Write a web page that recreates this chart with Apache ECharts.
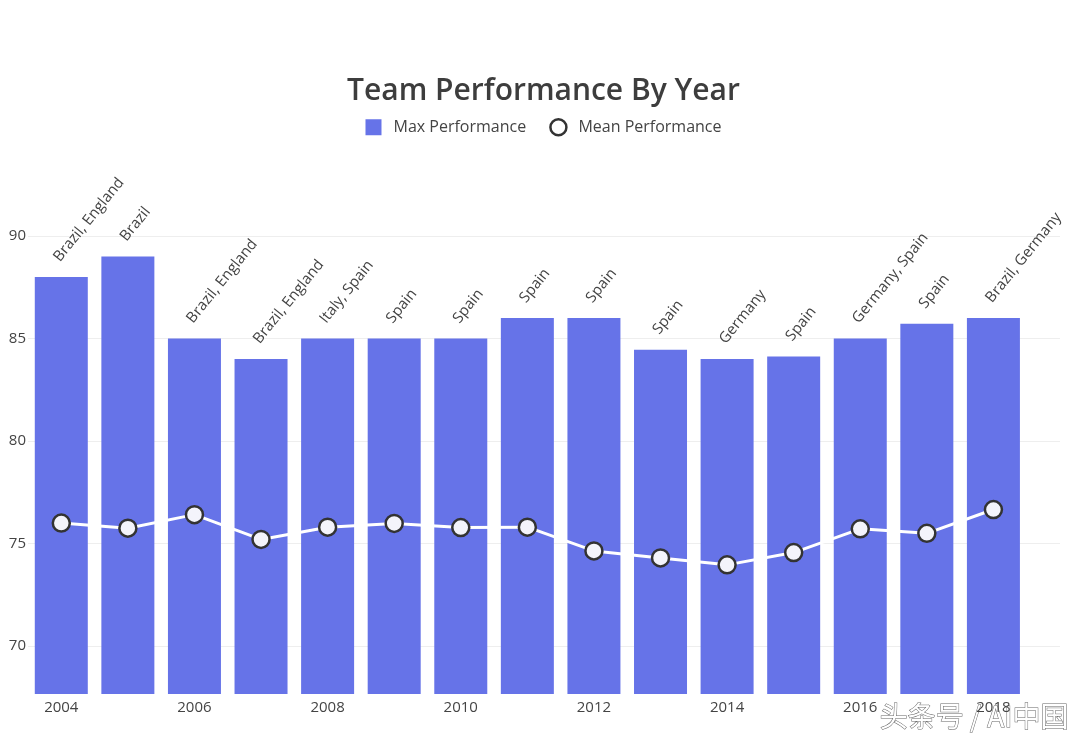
<!DOCTYPE html>
<html>
<head>
<meta charset="utf-8">
<script src="https://cdn.jsdelivr.net/npm/echarts@6/dist/echarts.min.js"></script>
<style>
html,body{margin:0;padding:0;background:#fff;}
#c{width:1087px;height:738px;}
</style>
</head>
<body>
<div id="c"></div>
<script>
const years = [2004, 2005, 2006, 2007, 2008, 2009, 2010, 2011, 2012, 2013, 2014, 2015, 2016, 2017, 2018];
const maxPerformance = [88, 89, 85, 84, 85, 85, 85, 86, 86, 84.46, 84, 84.13, 85, 85.72, 86];
const meanPerformance = [76.0, 75.75, 76.41, 75.2, 75.8, 75.98, 75.78, 75.8, 74.64, 74.3, 73.96, 74.56, 75.72, 75.5, 76.66];
const topTeams = ['Brazil, England', 'Brazil', 'Brazil, England', 'Brazil, England', 'Italy, Spain', 'Spain', 'Spain', 'Spain', 'Spain', 'Spain', 'Germany', 'Spain', 'Germany, Spain', 'Spain', 'Brazil, Germany'];

const chart = echarts.init(document.getElementById('c'), null, {renderer: 'canvas'});
const txt = '#444';
chart.setOption({
  backgroundColor: '#fff',
  animation: false,
  title: {
    text: 'Team Performance By Year',
    left: 'center',
    top: 71,
    textStyle: {fontFamily: 'Open Sans', fontWeight: 600, fontSize: 30, color: '#3d3d3d'}
  },
  legend: {
    top: 113,
    left: 'center',
    itemWidth: 16,
    itemHeight: 16,
    itemGap: 23,
    textStyle: {fontFamily: 'Open Sans', fontSize: 16, color: txt, padding: [0, 0, 0, 7]},
    data: [
      {name: 'Max Performance', icon: 'rect'},
      {name: 'Mean Performance', icon: 'circle', itemStyle: {color: '#fff', borderColor: '#333', borderWidth: 2.5}}
    ]
  },
  grid: {left: 28, right: 27, top: 150, bottom: 44, containLabel: false},
  xAxis: {
    type: 'value',
    min: 2003.5,
    max: 2019,
    interval: 0.5,
    axisLine: {show: false},
    axisTick: {show: false},
    splitLine: {show: false},
    axisLabel: {
      color: txt, fontFamily: 'Open Sans', fontSize: 15, margin: 6,
      formatter: v => (Number.isInteger(v) && v % 2 === 0 && v <= 2018) ? String(v) : ''
    }
  },
  yAxis: {
    type: 'value',
    min: 67.66,
    max: 94.2,
    splitNumber: 5,
    axisLine: {show: false},
    axisTick: {show: false},
    axisLabel: {color: txt, fontFamily: 'Open Sans', fontSize: 15, margin: 2, showMinLabel: false, showMaxLabel: false},
    splitLine: {show: true, showMinLine: false, showMaxLine: false, lineStyle: {color: '#eeeeee', width: 1}}
  },
  series: [
    {
      name: 'Max Performance',
      type: 'bar',
      data: years.map((y, i) => [y, maxPerformance[i]]),
      barWidth: 53,
      itemStyle: {color: '#6673e8'},
      label: {
        show: true,
        position: 'top',
        distance: 20,
        offset: [-5, -2],
        rotate: 51,
        align: 'left',
        verticalAlign: 'middle',
        fontFamily: 'Open Sans',
        fontSize: 15,
        color: txt,
        formatter: p => topTeams[p.dataIndex]
      },
      z: 1
    },
    {
      name: 'Mean Performance',
      type: 'line',
      data: years.map((y, i) => [y, meanPerformance[i]]),
      symbol: 'circle',
      symbolSize: 17,
      lineStyle: {color: '#ffffff', width: 3},
      itemStyle: {color: '#f4f4fb', borderColor: '#333', borderWidth: 2.5},
      z: 3
    }
  ],
  graphic: [
    {
      type: 'text',
      right: 18,
      bottom: 7,
      style: {text: '头条号 / AI中国', font: '28px "Noto Sans CJK SC"', fill: '#ffffff', stroke: '#666', lineWidth: 1}
    }
  ]
});
</script>
</body>
</html>
